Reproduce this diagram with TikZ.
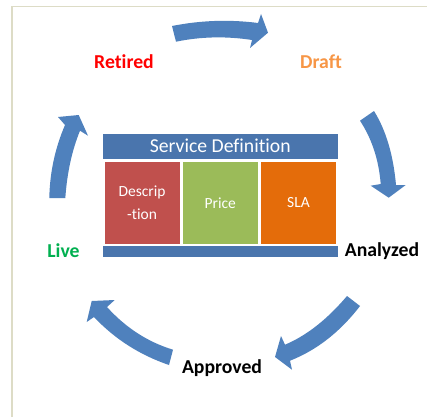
\documentclass[tikz,border=0pt]{standalone}
\usepackage{fontspec}
\setmainfont[Ligatures=NoCommon]{Carlito}
\definecolor{arrowblue}{HTML}{4F81BD}
\definecolor{barblue}{HTML}{4A75AD}
\definecolor{cellred}{HTML}{C0504D}
\definecolor{cellgreen}{HTML}{9BBB59}
\definecolor{cellorange}{HTML}{E46C0A}
\definecolor{framecol}{HTML}{DDDCC6}
\definecolor{draftcol}{HTML}{F79646}
\definecolor{livecol}{HTML}{00B050}
\tikzset{
  cyclearrow/.style={fill=arrowblue,draw=none},
  cell/.style={anchor=north west,inner sep=0pt,outer sep=0pt,text=white,align=center,font=\fontsize{15.5}{20}\selectfont},
  bar/.style={anchor=north west,inner sep=0pt,outer sep=0pt,fill=barblue,text=white},
  stage/.style={inner sep=0pt,font=\fontsize{19.7}{22}\selectfont\bfseries},
}
\begin{document}
\begin{tikzpicture}[x=1pt,y=-1pt]
\useasboundingbox (0,0) rectangle (427,417);
\fill[white] (0,0) rectangle (427,417);
\draw[framecol,line width=1.6pt] (12,417) -- (12,6.5) -- (427,6.5);
% cycle arrows
\fill[cyclearrow] (172,26) .. controls (200.7,20.3) and (229.3,19.3) .. (258,23) -- (261,14) -- (268,32.7) -- (250,48) -- (252,40) .. controls (226,36) and (200.7,36.6) .. (176,41.7) -- cycle;
\fill[cyclearrow] (374,111) .. controls (386,130.3) and (393.3,155) .. (396,185) -- (405.7,185) -- (388.7,197.7) -- (370.7,185.7) -- (380.7,184) .. controls (378.8,160) and (372,139) .. (360,120.7) -- cycle;
\fill[cyclearrow] (360,306) .. controls (340,332) and (316.7,350.2) .. (290,360.7) -- (292,369.7) -- (275,357) -- (281,336) -- (285,344.7) .. controls (308.3,334.9) and (329,317.3) .. (347,296) -- cycle;
\fill[cyclearrow] (169,365) .. controls (139.7,355) and (114.7,339) .. (94,317) -- (86.7,322) -- (91.7,301) -- (114.7,300) -- (107,307) .. controls (125.7,327.7) and (147.7,342) .. (173,349.7) -- cycle;
\fill[cyclearrow] (49.3,198) .. controls (49.8,172.7) and (55,148.3) .. (65,125) -- (58,117) -- (78.7,115) -- (88,135.7) -- (80,130.7) .. controls (72,150.2) and (67.1,172.7) .. (65.3,198) -- cycle;
% service definition
\node[bar,minimum width=234.5pt,minimum height=25.5pt,font=\fontsize{19.7}{22}\selectfont] (title) at (103,133.5) {Service Definition};
\node[cell,fill=cellred,minimum width=75pt,minimum height=82pt] (descr) at (104.5,162) {Descrip\\[3pt]-tion};
\node[cell,fill=cellgreen,minimum width=74.5pt,minimum height=82pt] (price) at (183,162) {Price};
\node[cell,fill=cellorange,minimum width=75pt,minimum height=82pt] (sla) at (261,162) {SLA};
\node[bar,minimum width=234.5pt,minimum height=11pt] (footbar) at (103,246) {};
% stages
\node[stage,text=red] (retired) at (124,62) {Retired};
\node[stage,text=draftcol] (draft) at (321,62) {Draft};
\node[stage,text=black] (analyzed) at (382,251) {Analyzed};
\node[stage,text=black] (approved) at (222,368) {Approved};
\node[stage,text=livecol] (live) at (63.5,251) {Live};
\end{tikzpicture}
\end{document}
